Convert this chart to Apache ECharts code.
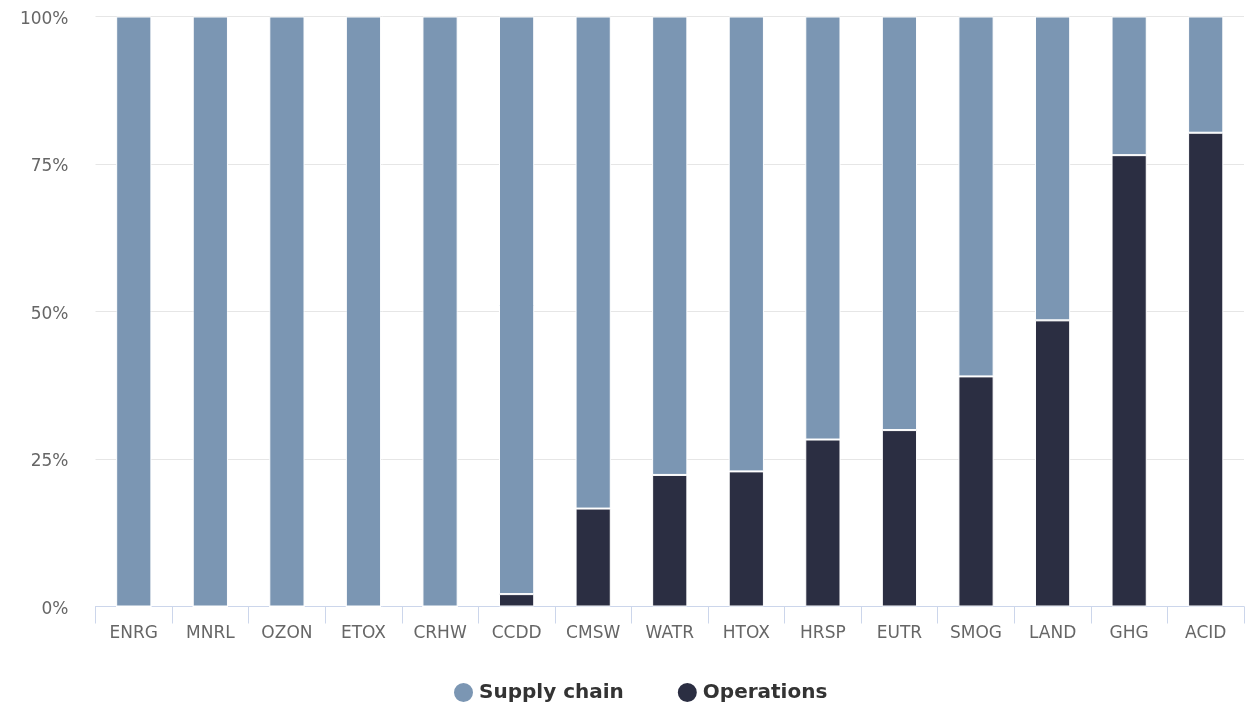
<!DOCTYPE html>
<html>
<head>
<meta charset="utf-8">
<title>Impact share by category</title>
<script src="https://cdn.jsdelivr.net/npm/echarts@6/dist/echarts.min.js"></script>
<style>
  html, body { margin: 0; padding: 0; background: #ffffff; }
  #chart { width: 1258px; height: 704px; }
</style>
</head>
<body>
<div id="chart"></div>
<script>
// Impact categories along the x axis
const categories = ['ENRG', 'MNRL', 'OZON', 'ETOX', 'CRHW', 'CCDD', 'CMSW', 'WATR', 'HTOX', 'HRSP', 'EUTR', 'SMOG', 'LAND', 'GHG', 'ACID'];

// Share of each impact (percent) from operations
const operations = [0, 0, 0, 0, 0, 2.1, 16.6, 22.3, 22.9, 28.3, 29.9, 39.0, 48.5, 76.5, 80.3];

// Share of each impact (percent) from the supply chain
const supplyChain = [100, 100, 100, 100, 100, 97.9, 83.4, 77.7, 77.1, 71.7, 70.1, 61.0, 51.5, 23.5, 19.7];

// Value axis ticks
const yTicks = [0, 25, 50, 75, 100];

const FONT = '"DejaVu Sans", "Noto Sans", sans-serif';

const chart = echarts.init(document.getElementById('chart'), null, { renderer: 'canvas' });

chart.setOption({
  animation: false,
  backgroundColor: '#ffffff',
  grid: { left: 95.5, right: 14, top: 16.5, bottom: 97.5, containLabel: false },
  legend: {
    top: 676,
    left: 447,
    icon: 'circle',
    itemWidth: 21,
    itemHeight: 21,
    itemGap: 52,
    textStyle: { fontFamily: FONT, fontSize: 20, fontWeight: 'bold', color: '#333333' },
    data: ['Supply chain', 'Operations']
  },
  xAxis: {
    type: 'category',
    data: categories,
    axisLine: { lineStyle: { color: '#ccd6eb', width: 1 } },
    axisTick: { show: true, alignWithLabel: false, length: 17, lineStyle: { color: '#ccd6eb' } },
    axisLabel: { color: '#666666', fontFamily: FONT, fontSize: 17, margin: 19 }
  },
  yAxis: {
    type: 'value',
    min: yTicks[0],
    max: yTicks[yTicks.length - 1],
    interval: 25,
    axisLine: { show: false },
    axisTick: { show: false },
    splitLine: { lineStyle: { color: '#e6e6e6', width: 1 } },
    axisLabel: {
      color: '#666666', fontFamily: FONT, fontSize: 17, margin: 27,
      verticalAlign: 'top', lineHeight: 6,
      formatter: '{value}%'
    }
  },
  series: [
    {
      name: 'Operations',
      type: 'bar',
      stack: 'share',
      barWidth: '46%',
      data: operations,
      itemStyle: { color: '#2b2e42', borderColor: '#ffffff', borderWidth: 1 }
    },
    {
      name: 'Supply chain',
      type: 'bar',
      stack: 'share',
      barWidth: '46%',
      data: supplyChain,
      itemStyle: { color: '#7b96b3', borderColor: '#ffffff', borderWidth: 1 }
    }
  ]
});
</script>
</body>
</html>
